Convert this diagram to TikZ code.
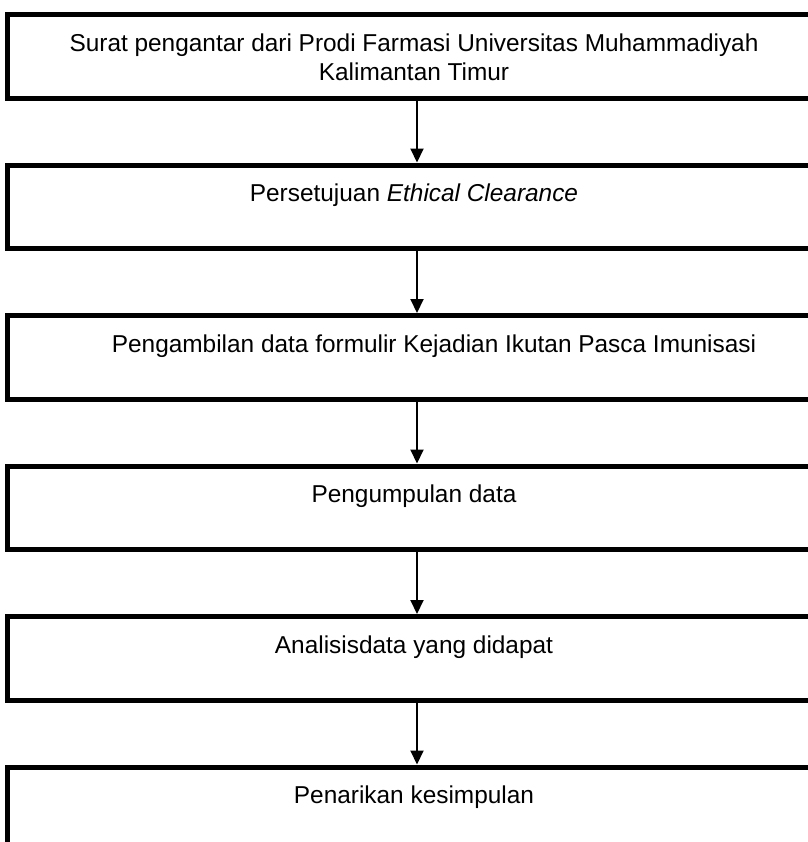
\documentclass[tikz,border=0pt]{standalone}
\usepackage{fontspec}
\setmainfont{Liberation Sans}
\usetikzlibrary{arrows.meta,positioning}

\begin{document}
\begin{tikzpicture}[x=0.5pt,y=-0.5pt,
  box/.style={draw,line width=2.5pt,minimum width=409.5pt,minimum height=41.75pt,inner sep=0pt},
  txt/.style={anchor=base,align=center,inner sep=0pt,font=\fontsize{12.2}{14.5}\selectfont},
  arr/.style={line width=1pt,-{Triangle[width=6.5pt,length=7pt]}},
  node distance=31pt]
\useasboundingbox (0,0) rectangle (808,842);
\clip (0,0) rectangle (808,842);

\node[box,anchor=north] (b1) at (417,12) {};
\node[box,below=of b1] (b2) {};
\node[box,below=of b2] (b3) {};
\node[box,below=of b3] (b4) {};
\node[box,below=of b4] (b5) {};
\node[box,below=of b5] (b6) {};

\node[txt] (t1) at ([xshift=-1.5pt,yshift=-34pt]b1.north) {Surat pengantar dari Prodi Farmasi Universitas Muhammadiyah\\Kalimantan Timur};
\node[txt] (t2) at ([xshift=-1.5pt,yshift=-19.5pt]b2.north) {Persetujuan \textit{Ethical Clearance}};
\node[txt] (t3) at ([xshift=8.5pt,yshift=-19.5pt]b3.north) {Pengambilan data formulir Kejadian Ikutan Pasca Imunisasi};
\node[txt] (t4) at ([xshift=-1.5pt,yshift=-19.5pt]b4.north) {Pengumpulan data};
\node[txt] (t5) at ([xshift=-1.5pt,yshift=-19.5pt]b5.north) {Analisisdata yang didapat};
\node[txt] (t6) at ([xshift=-1.5pt,yshift=-19.5pt]b6.north) {Penarikan kesimpulan};

\foreach \i/\j in {1/2,2/3,3/4,4/5,5/6}
  \draw[arr] (b\i) -- (b\j);
\end{tikzpicture}
\end{document}
